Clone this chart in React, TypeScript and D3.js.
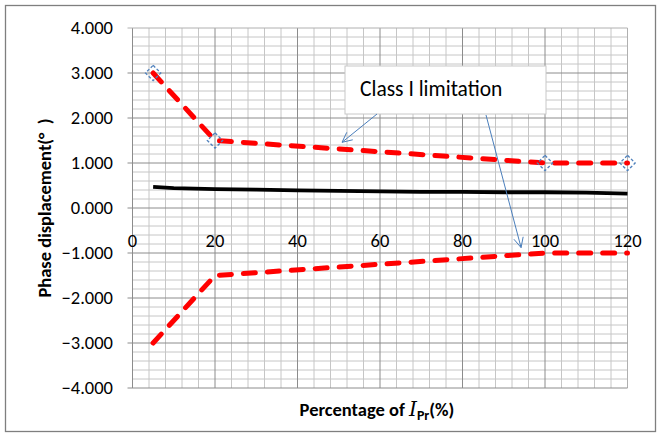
import { useEffect, useRef } from "react";
import * as d3 from "d3";

// data
const upperX = [5, 20, 100, 120];
const upperY = [3.0, 1.5, 1.0, 1.0];
const lowerX = [5, 20, 100, 120];
const lowerY = [-3.0, -1.5, -1.0, -1.0];
const measX = [5, 10, 20, 30, 40, 50, 60, 70, 80, 90, 100, 110, 120];
const measY = [0.47, 0.44, 0.42, 0.41, 0.39, 0.38, 0.37, 0.36, 0.36, 0.35, 0.35, 0.34, 0.32];
const xTicks = [0, 20, 40, 60, 80, 100, 120];
const yTicks = [4, 3, 2, 1, 0, -1, -2, -3, -4];
const noteText = "Class I limitation";
// arrow tips of the annotation, in data units
const arrowTips = [
  { x: 50.8, y: 1.46 },
  { x: 94.2, y: -0.88 },
];

const W = 660;
const H = 433;

export default function App() {
  const ref = useRef<SVGSVGElement>(null);

  useEffect(() => {
    if (!ref.current) return;
    const svg = d3.select(ref.current);
    svg.selectAll("*").remove();

    const x = d3.scaleLinear().domain([0, 120]).range([132.5, 627.5]);
    const y = d3.scaleLinear().domain([-4, 4]).range([388, 28]);
    const font = "Carlito, 'Liberation Sans', Arial, sans-serif";

    // outer frame
    svg
      .append("rect")
      .attr("x", 5.5)
      .attr("y", 5.5)
      .attr("width", 650)
      .attr("height", 426)
      .attr("fill", "#fff")
      .attr("stroke", "#7f7f7f")
      .attr("stroke-width", 1.3);

    const g = svg.append("g");

    // minor grid
    const minorX = d3.range(0, 121, 4).filter((v) => v % 20 !== 0);
    const minorY = d3.range(-40, 41, 2).map((v) => v / 10).filter((v) => Math.abs(v % 1) > 0.01);
    g.selectAll(".mx")
      .data(minorX)
      .join("line")
      .attr("x1", (d) => x(d))
      .attr("x2", (d) => x(d))
      .attr("y1", y(4))
      .attr("y2", y(-4))
      .attr("stroke", "#c6c6c6")
      .attr("stroke-width", 1);
    g.selectAll(".my")
      .data(minorY)
      .join("line")
      .attr("x1", x(0))
      .attr("x2", x(120))
      .attr("y1", (d) => y(d))
      .attr("y2", (d) => y(d))
      .attr("stroke", "#c6c6c6")
      .attr("stroke-width", 1);

    // major grid
    g.selectAll(".Mx")
      .data(xTicks)
      .join("line")
      .attr("x1", (d) => x(d))
      .attr("x2", (d) => x(d))
      .attr("y1", y(4))
      .attr("y2", y(-4))
      .attr("stroke", (d) => (d === 120 ? "#b0b0b0" : "#8c8c8c"))
      .attr("stroke-width", 1);
    g.selectAll(".My")
      .data(yTicks)
      .join("line")
      .attr("x1", x(0) - 5)
      .attr("x2", x(120))
      .attr("y1", (d) => y(d))
      .attr("y2", (d) => y(d))
      .attr("stroke", (d) => (d === 4 ? "#b0b0b0" : "#8c8c8c"))
      .attr("stroke-width", 1);

    // y tick labels
    g.selectAll(".yl")
      .data(yTicks)
      .join("text")
      .attr("x", 113)
      .attr("y", (d) => y(d))
      .attr("dy", "0.35em")
      .attr("text-anchor", "end")
      .attr("font-family", font)
      .attr("font-size", 18.5)
      .attr("fill", "#000")
      .text((d) => d3.format(".3f")(d));

    // x tick labels (sitting under the zero line)
    g.selectAll(".xl")
      .data(xTicks)
      .join("text")
      .attr("x", (d) => x(d))
      .attr("y", y(0) + 39)
      .attr("text-anchor", "middle")
      .attr("font-family", font)
      .attr("font-size", 18.5)
      .attr("fill", "#000")
      .text((d) => String(d));

    // lines
    const line = d3
      .line<[number, number]>()
      .x((d) => x(d[0]))
      .y((d) => y(d[1]));

    const upper = upperX.map((v, i) => [v, upperY[i]] as [number, number]);
    const lower = lowerX.map((v, i) => [v, lowerY[i]] as [number, number]);
    const meas = measX.map((v, i) => [v, measY[i]] as [number, number]);

    g.append("path")
      .datum(meas)
      .attr("d", line)
      .attr("fill", "none")
      .attr("stroke", "#000")
      .attr("stroke-width", 3.8);

    [upper, lower].forEach((pts) => {
      g.append("path")
        .datum(pts)
        .attr("d", line)
        .attr("fill", "none")
        .attr("stroke", "#ff0000")
        .attr("stroke-width", 5)
        .attr("stroke-linecap", "round")
        .attr("stroke-dasharray", "12 12");
    });

    // hollow diamond markers on upper limit
    const diamond = d3.symbol().type(d3.symbolDiamond2).size(150);
    g.selectAll(".mk")
      .data(upper)
      .join("path")
      .attr("d", diamond)
      .attr("transform", (d) => `translate(${x(d[0])},${y(d[1])})`)
      .attr("fill", "none")
      .attr("stroke", "#4f81bd")
      .attr("stroke-width", 1.3)
      .attr("stroke-dasharray", "3 2");

    // annotation box
    const box = { x: 345, y: 66, w: 201, h: 48 };
    g.append("rect")
      .attr("x", box.x)
      .attr("y", box.y)
      .attr("width", box.w)
      .attr("height", box.h)
      .attr("fill", "#fff")
      .attr("stroke", "#c8c8c8")
      .attr("stroke-width", 1);
    g.append("text")
      .attr("x", 360)
      .attr("y", 96)
      .attr("font-family", font)
      .attr("font-size", 21.5)
      .attr("fill", "#000")
      .text(noteText);

    // arrows
    const starts = [
      [377, 114],
      [486, 115],
    ];
    arrowTips.forEach((t, i) => {
      const [sx, sy] = starts[i];
      const tx = x(t.x);
      const ty = y(t.y);
      const ang = Math.atan2(ty - sy, tx - sx);
      const len = 11;
      const spread = 0.45;
      g.append("line")
        .attr("x1", sx)
        .attr("y1", sy)
        .attr("x2", tx)
        .attr("y2", ty)
        .attr("stroke", "#4a7ebb")
        .attr("stroke-width", 1);
      g.append("path")
        .attr(
          "d",
          `M${tx - len * Math.cos(ang - spread)},${ty - len * Math.sin(ang - spread)}L${tx},${ty}L${
            tx - len * Math.cos(ang + spread)
          },${ty - len * Math.sin(ang + spread)}`
        )
        .attr("fill", "none")
        .attr("stroke", "#4a7ebb")
        .attr("stroke-width", 1);
    });

    // axis titles
    svg
      .append("text")
      .attr("transform", `translate(51,${y(0)}) rotate(-90)`)
      .attr("text-anchor", "middle")
      .attr("font-family", font)
      .attr("font-size", 18.5)
      .attr("font-weight", "bold")
      .attr("fill", "#000")
      .style("white-space", "pre")
      .text("Phase displacement(°  )");

    const xt = svg
      .append("text")
      .attr("x", 377)
      .attr("y", 416)
      .attr("text-anchor", "middle")
      .attr("font-family", font)
      .attr("font-size", 18.5)
      .attr("font-weight", "bold")
      .attr("fill", "#000");
    xt.append("tspan").text("Percentage of ");
    xt.append("tspan")
      .attr("font-family", "'DejaVu Serif', serif")
      .attr("font-style", "italic")
      .attr("font-weight", "normal")
      .attr("font-size", 20)
      .text("I");
    xt.append("tspan").attr("font-size", 14).attr("dy", 4).text("Pr");
    xt.append("tspan").attr("dy", -4).text("(%)");
  }, []);

  return (
    <svg
      ref={ref}
      width={W}
      height={H}
      style={{ position: "absolute", left: 0, top: 0, background: "#fff" }}
    />
  );
}
